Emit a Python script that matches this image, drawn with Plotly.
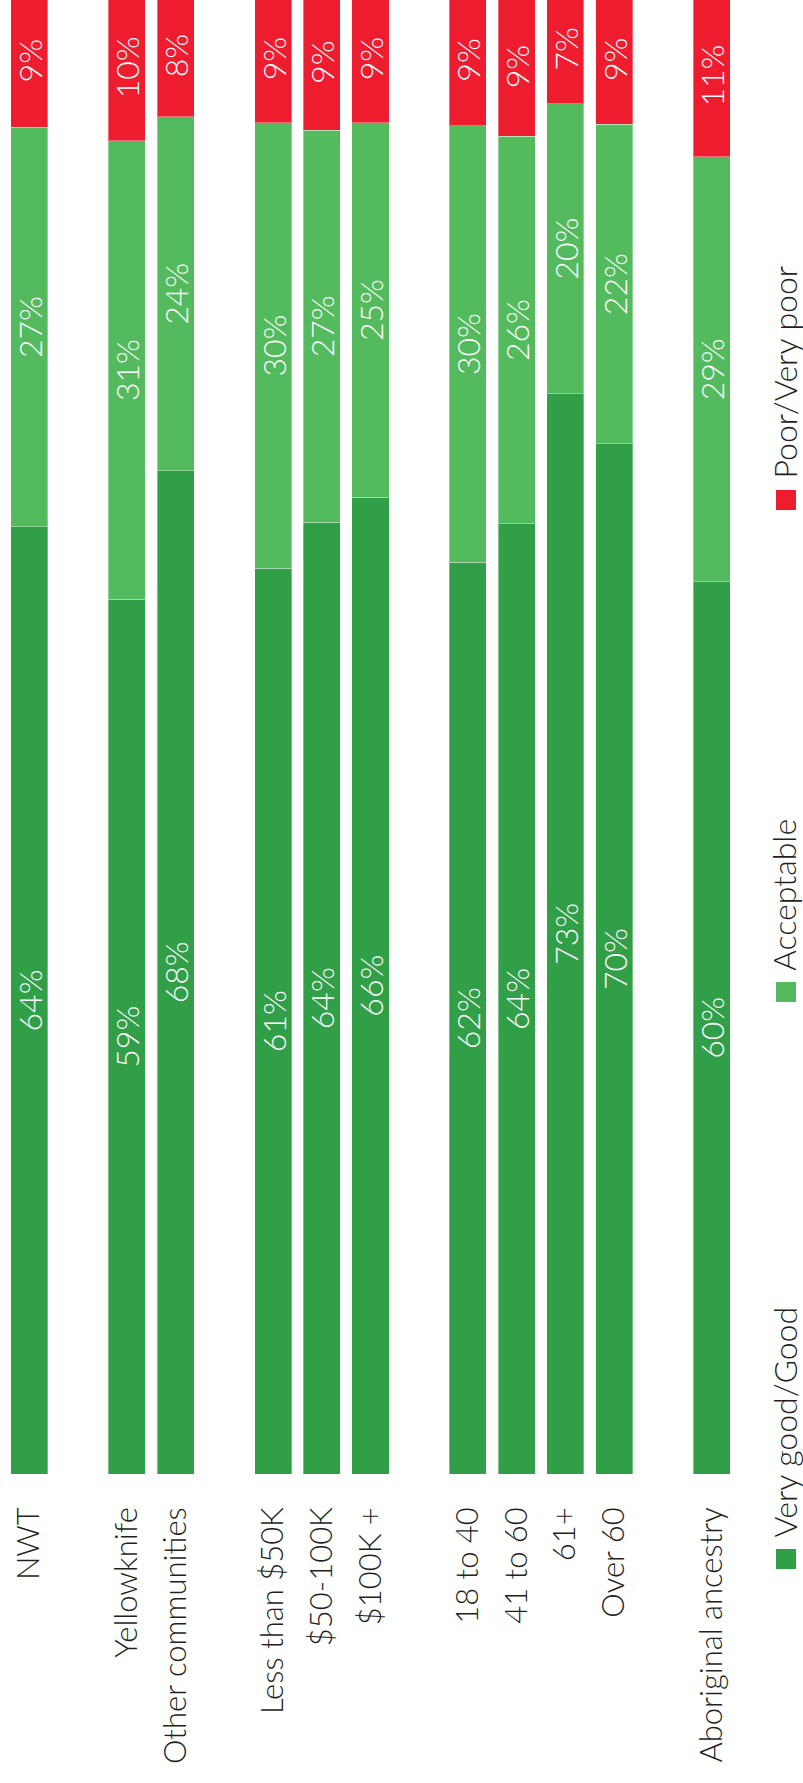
import plotly.graph_objects as go

# ---- data ----
groups = [
    ["NWT"],
    ["Yellowknife", "Other communities"],
    ["Less than $50K", "$50-100K", "$100K +"],
    ["18 to 40", "41 to 60", "61+", "Over 60"],
    ["Aboriginal ancestry"],
]
series_names = ["Very good/Good", "Acceptable", "Poor/Very poor"]
very_good = [64.0, 59.1, 67.8, 61.2, 64.3, 66.0, 61.6, 64.2, 73.0, 69.6, 60.3]
acceptable = [27.0, 31.0, 23.9, 30.1, 26.5, 25.3, 29.5, 26.2, 19.6, 21.6, 28.7]
poor = [9.0, 9.9, 8.3, 8.7, 9.2, 8.7, 8.9, 9.4, 7.4, 8.8, 11.0]

# ---- styling ----
colors = ["#319E48", "#53BA5E", "#ED1C2E"]
FONT = "Lato"
TEXT_DARK = "#231F20"
W, H = 803, 1783
ML, MR, MT, MB = 5, 67, 0, 309

# category slots with a blank slot between groups
categories, xpos = [], []
slot = 0
for g in groups:
    for c in g:
        categories.append(c)
        xpos.append(slot)
        slot += 1
    slot += 1

fig = go.Figure()
for name, vals, col in zip(series_names, [very_good, acceptable, poor], colors):
    fig.add_trace(go.Bar(
        x=xpos, y=vals, name=name,
        marker=dict(color=col, line=dict(color="rgba(255,255,255,0.35)", width=1)),
        texttemplate="%{y:.0f}%", textposition="inside", insidetextanchor="middle",
        textangle=-90, constraintext="none",
        insidetextfont=dict(family=FONT, size=32, color="white", weight=300),
        hoverinfo="skip",
    ))

plot_w = W - ML - MR
plot_h = H - MT - MB

def px_x(px):
    return (px - ML) / plot_w

def px_y(py):
    return (H - MB - py) / plot_h

# rotated legend (drawn with shapes + annotations)
legend_marker_tops = [1549, 982, 490]
shapes, annotations = [], []
for name, col, top in zip(series_names, colors, legend_marker_tops):
    shapes.append(dict(type="rect", xref="paper", yref="paper",
                       x0=px_x(776), x1=px_x(796), y0=px_y(top + 20), y1=px_y(top),
                       fillcolor=col, line=dict(width=0)))
    annotations.append(dict(text=name, xref="paper", yref="paper",
                            x=px_x(784), y=px_y(top - 9), xanchor="center", yanchor="bottom",
                            textangle=-90, showarrow=False,
                            font=dict(family=FONT, size=32, color=TEXT_DARK, weight=300)))

fig.update_layout(
    width=W, height=H,
    margin=dict(l=ML, r=MR, t=MT, b=MB, pad=0, autoexpand=False),
    barmode="stack", bargap=0.24,
    plot_bgcolor="white", paper_bgcolor="white",
    showlegend=False,
    shapes=shapes, annotations=annotations,
    xaxis=dict(range=[min(xpos) - 0.5, max(xpos) + 0.5], tickvals=xpos, ticktext=categories,
               tickangle=-90, ticklabelstandoff=26, showgrid=False, zeroline=False,
               showline=False, ticks="", automargin=False,
               tickfont=dict(family=FONT, size=31, color=TEXT_DARK, weight=300)),
    yaxis=dict(range=[0, 99.6], visible=False, showgrid=False, zeroline=False,
               automargin=False),
)

fig.write_html(
    "out.html",
    config={"displayModeBar": False},
    post_script="document.body.style.margin='0';document.body.style.padding='0';"
                "document.documentElement.style.overflow='hidden';",
)
